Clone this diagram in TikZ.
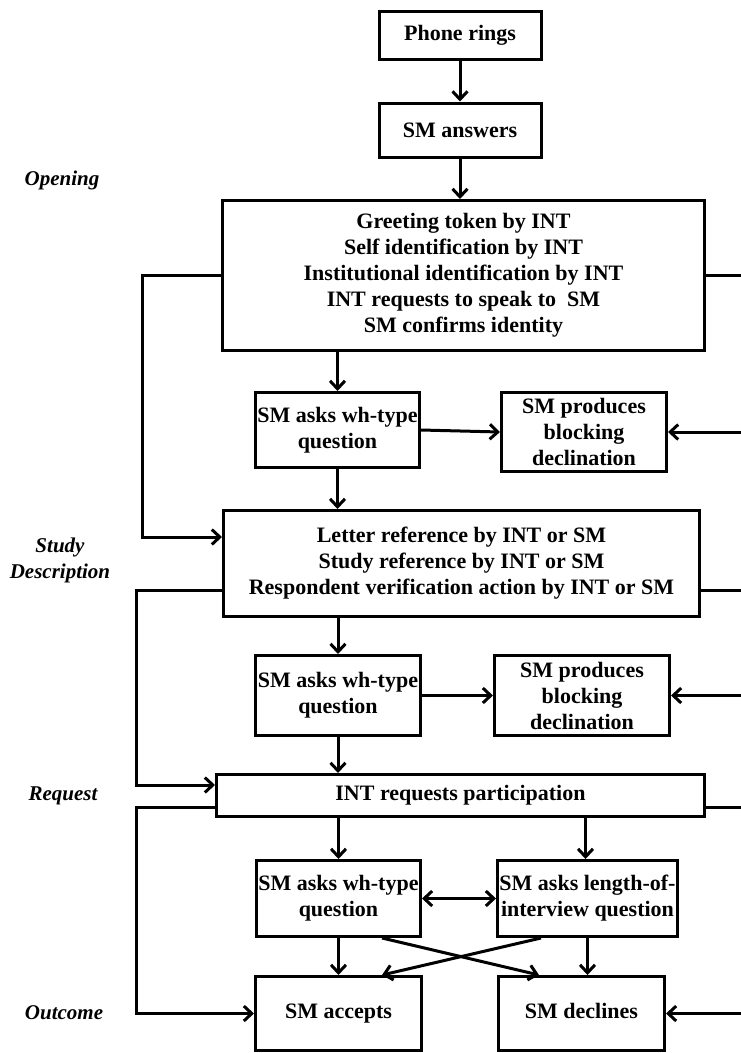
\documentclass[tikz,border=0pt]{standalone}
\usepackage{fontspec}
\setmainfont{Liberation Serif}
\usetikzlibrary{arrows.meta}

\begin{document}
\begin{tikzpicture}[x=1pt,y=-1pt]
	\tikzstyle{box}=[draw, shape=rectangle, line width=3pt, align=center, inner sep=0pt, font=\fontsize{22}{26}\selectfont\bfseries];
	\tikzstyle{phase}=[align=center, font=\fontsize{21}{26}\selectfont\bfseries\itshape];
	\tikzstyle{flow}=[line width=3pt, -{Straight Barb[length=8pt,width=15pt]}];
	\tikzstyle{line}=[line width=3pt];

	\useasboundingbox (0,0) rectangle (741,1053);
	\coordinate (edge) at (741,0);
	\coordinate (lanea) at (142,0);
	\coordinate (laneb) at (136,0);

	\node[box, minimum width=162pt, minimum height=48pt] (rings) at (460,35) {Phone rings};
	\node[box, minimum width=162pt, minimum height=54pt] (answers) at (460,130) {SM answers};
	\node[box, minimum width=482pt, minimum height=150pt] (opening) at (463.5,275.5) {Greeting token by INT\\Self identification by INT\\Institutional identification by INT\\INT requests to speak to\ \ SM\\SM confirms identity};

	\node[box, minimum width=164pt, minimum height=75pt] (whA) at (337.5,430) {SM asks wh-type\\question};
	\node[box, minimum width=165pt, minimum height=79pt] (blockA) at (584,432) {SM produces\\blocking\\declination};

	\node[box, minimum width=476pt, minimum height=106pt] (study) at (461.5,563.5) {Letter reference by INT or SM\\Study reference by INT or SM\\Respondent verification action by INT or SM};

	\node[box, minimum width=165pt, minimum height=80pt] (whB) at (338,695.5) {SM asks wh-type\\question};
	\node[box, minimum width=175pt, minimum height=80pt] (blockB) at (582,695.5) {SM produces\\blocking\\declination};

	\node[box, minimum width=488pt, minimum height=42pt] (request) at (460.5,795.5) {INT requests participation};

	\node[box, minimum width=164pt, minimum height=76pt] (whC) at (338.5,898.5) {SM asks wh-type\\question};
	\node[box, minimum width=180pt, minimum height=76pt] (length) at (587.5,898.5) {SM asks length-of-\\interview question};

	\node[box, minimum width=166pt, minimum height=74pt, text height=15pt, text depth=5pt] (accepts) at (338.5,1013.5) {SM accepts};
	\node[box, minimum width=166pt, minimum height=74pt, text height=15pt, text depth=5pt] (declines) at (581.5,1013.5) {SM declines};

	\node[phase] (lopen) at (62,180) {Opening};
	\node[phase] (lstudy) at (60,560) {Study\\Description};
	\node[phase] (lreq) at (63,796) {Request};
	\node[phase] (lout) at (64,1013) {Outcome};

	% opening
	\draw[flow] (rings) -- (answers);
	\draw[flow] (answers) -- (answers.south |- opening.north);
	\draw[flow] (opening.west) -- (opening.west -| lanea) |- ([yshift=26.5pt]study.west);
	\draw[line] (opening.east) -- (opening.east -| edge);
	\draw[flow] (whA.north |- opening.south) -- (whA.north);
	\draw[flow] (whA.east) -- (blockA.west);
	\draw[flow] (blockA.east -| edge) -- (blockA.east);
	\draw[flow] (whA.south) -- (whA.south |- study.north);

	% study description
	\draw[flow] ([yshift=-26.5pt]study.west) -- ([yshift=-26.5pt]study.west -| laneb) |- ([yshift=10.5pt]request.west);
	\draw[line] ([yshift=-26.5pt]study.east) -- ([yshift=-26.5pt]study.east -| edge);
	\draw[flow] (whB.north |- study.south) -- (whB.north);
	\draw[flow] (whB.east) -- (blockB.west);
	\draw[flow] (blockB.east -| edge) -- (blockB.east);
	\draw[flow] (whB.south) -- (whB.south |- request.north);

	% request
	\draw[flow] ([yshift=-11.5pt]request.west) -- ([yshift=-11.5pt]request.west -| laneb) |- (accepts.west);
	\draw[line] ([yshift=-11.5pt]request.east) -- ([yshift=-11.5pt]request.east -| edge);
	\draw[flow] (whC.north |- request.south) -- (whC.north);
	\draw[flow] ([xshift=-2pt]length.north |- request.south) -- ([xshift=-2pt]length.north);
	\draw[line, {Straight Barb[length=8pt,width=15pt]}-{Straight Barb[length=8pt,width=15pt]}] (whC.east) -- (length.west);

	% outcome
	\draw[flow] (whC.south) -- (accepts.north);
	\draw[flow] (length.south) -- (length.south |- declines.north);
	\draw[flow] ([xshift=43.5pt]whC.south) -- ([xshift=-42.5pt]declines.north);
	\draw[flow] ([xshift=-46.5pt]length.south) -- ([xshift=43.5pt]accepts.north);
	\draw[flow] (declines.east -| edge) -- (declines.east);

\end{tikzpicture}
\end{document}
